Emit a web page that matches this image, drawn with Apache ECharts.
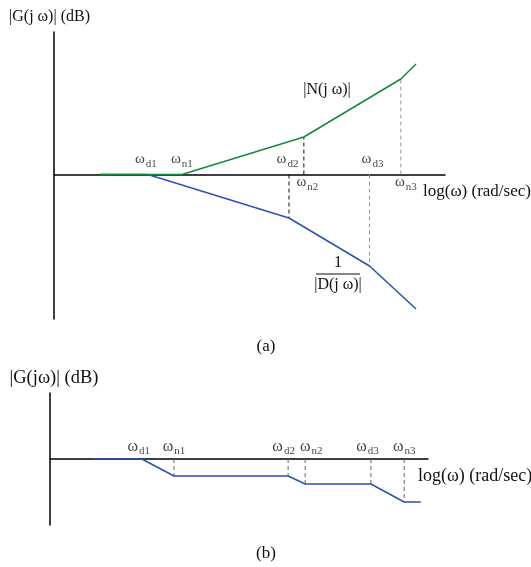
<!DOCTYPE html>
<html><head><meta charset="utf-8">
<script src="https://cdn.jsdelivr.net/npm/echarts@6/dist/echarts.min.js"></script>
<style>html,body{margin:0;padding:0;background:#fff}#c{width:531px;height:567px}</style>
</head><body><div id="c"></div>
<script>
// Panel (a): straight-line asymptotes (x in log-frequency units, y in dB units)
const numLogW = [1.17, 3.27, 6.39, 8.87, 9.26];
const numMag  = [0, 0, 7.5, 19.1, 22.1];
const denLogW = [1.17, 2.40, 6.01, 8.07, 9.26];
const denMag  = [0, 0, -8.7, -18.3, -26.9];
// Panel (b): overall magnitude
const totLogW = [1.14, 2.43, 3.28, 6.30, 6.75, 8.49, 9.37, 9.81];
const totMag  = [0, 0, -3.4, -3.4, -5.0, -5.0, -8.6, -8.6];
const breakNames = ['d1', 'n1', 'd2', 'n2', 'd3', 'n3'];
const yTitles = ['|G(j ω)| (dB)', '|G(jω)| (dB)'];
const xTitle = 'log(ω) (rad/sec)';
const panelTags = ['(a)', '(b)'];
const numLabel = '|N(j ω)|';
const denLabel = ['1', '|D(j ω)|'];

const FONT = '"Liberation Serif", "Times New Roman", serif';
const GREEN = '#14893c';
const BLUE = '#2c4fb8';

const z = (a, b) => a.map((v, i) => [v, b[i]]);

// break-point positions for the ω labels
const breaksA = [denLogW[1], numLogW[1], denLogW[2], numLogW[2], denLogW[3], numLogW[3]];
const breaksB = totLogW.slice(1, 7);
const offA = [[-2, -15], [0, -15], [-1.5, -15], [3.5, 7.5], [3, -15], [5, 7.5]];
const offB = [[-3, -12.5], [0, -12.5], [-4.5, -12.5], [6, -12.5], [-3.5, -12.5], [0, -12.5]];

function labelSeries(idx, breaks, offs, wSize) {
  return {
    type: 'scatter', xAxisIndex: idx, yAxisIndex: idx, symbolSize: 0, silent: true, z: 5,
    data: breaks.map((x, i) => ({ value: [x, 0], name: breakNames[i],
      label: { offset: offs[i] } })),
    label: {
      show: true, position: 'inside', align: 'center', verticalAlign: 'middle',
      formatter: p => '{w|ω}{s|' + p.name + '}',
      rich: {
        w: { fontFamily: FONT, fontSize: wSize, lineHeight: 16, color: '#111' },
        s: { fontFamily: FONT, fontSize: 11, color: '#111', padding: [10, 0, 0, 1] }
      }
    }
  };
}

function guide(idx, x, y, color) {
  return {
    type: 'line', xAxisIndex: idx, yAxisIndex: idx, symbol: 'none', silent: true, z: 1,
    data: [[x, 0], [x, y]],
    lineStyle: { color: color, width: 1, type: [4, 3] }
  };
}

const guidesA = [
  guide(0, denLogW[2], denMag[2], '#111'),
  guide(0, numLogW[2], numMag[2], '#111'),
  guide(0, denLogW[3], denMag[3], '#9a9a9a'),
  guide(0, numLogW[3], numMag[3], '#9a9a9a')
];
const guidesB = [2, 3, 4, 5, 6].map(i => guide(1, totLogW[i], totMag[i], '#666'));

function xAx(idx) {
  return {
    type: 'value', gridIndex: idx, min: 0, max: 10,
    axisLine: { show: true, onZero: true, lineStyle: { color: '#000', width: 1.5 } },
    axisTick: { show: false }, axisLabel: { show: false }, splitLine: { show: false },
    name: xTitle, nameLocation: 'end', nameGap: idx === 0 ? -22 : -10,
    nameTextStyle: { fontFamily: FONT, fontSize: idx === 0 ? 17 : 18, color: '#111', align: 'left',
      verticalAlign: 'top', padding: [idx === 0 ? 9 : 8, 0, 0, 0] }
  };
}
function yAx(idx, min, max) {
  return {
    type: 'value', gridIndex: idx, min: min, max: max,
    axisLine: { show: true, onZero: false, lineStyle: { color: '#000', width: 1.5 } },
    axisTick: { show: false }, axisLabel: { show: false }, splitLine: { show: false },
    name: yTitles[idx], nameLocation: 'end', nameGap: idx === 0 ? 7 : 5,
    nameTextStyle: { fontFamily: FONT, fontSize: idx === 0 ? 16 : 18.5, color: '#111',
      align: 'center', verticalAlign: 'bottom',
      padding: idx === 0 ? [0, 9, 0, 0] : [0, 0, 0, 8] }
  };
}

const chart = echarts.init(document.getElementById('c'), null, { renderer: 'canvas' });
chart.setOption({
  backgroundColor: '#fff',
  animation: false,
  grid: [
    { left: 54, top: 32, width: 391, height: 287, outerBoundsMode: 'none', containLabel: false },
    { left: 50, top: 393, width: 378, height: 132, outerBoundsMode: 'none', containLabel: false }
  ],
  xAxis: [xAx(0), xAx(1)],
  yAxis: [yAx(0, -28.9, 28.5), yAx(1, -13.2, 13.2)],
  series: [
    ...guidesA, ...guidesB,
    { name: '1/|D(jω)|', type: 'line', xAxisIndex: 0, yAxisIndex: 0, symbol: 'none', z: 3,
      data: z(denLogW, denMag), lineStyle: { color: BLUE, width: 1.5 } },
    { name: '|N(jω)|', type: 'line', xAxisIndex: 0, yAxisIndex: 0, symbol: 'none', z: 4,
      data: z(numLogW, numMag), lineStyle: { color: GREEN, width: 1.5 } },
    { name: '|G(jω)|', type: 'line', xAxisIndex: 1, yAxisIndex: 1, symbol: 'none', z: 3,
      data: z(totLogW, totMag), lineStyle: { color: BLUE, width: 1.5 } },
    labelSeries(0, breaksA, offA, 15),
    labelSeries(1, breaksB, offB, 16)
  ],
  graphic: [
    { type: 'text', x: 327, y: 90, style: { text: numLabel, font: '16px ' + FONT, fill: '#111',
      align: 'center', verticalAlign: 'middle' } },
    { type: 'text', x: 338, y: 254, style: {
      text: '{n|' + denLabel[0] + '}\n{bar|}\n{d|' + denLabel[1] + '}',
      align: 'center', verticalAlign: 'top',
      rich: {
        n: { font: '16px ' + FONT, fill: '#111', lineHeight: 18, align: 'center' },
        bar: { width: 44, height: 1, lineHeight: 4, backgroundColor: '#111', align: 'center' },
        d: { font: '16px ' + FONT, fill: '#111', lineHeight: 18, align: 'center' }
      } } },
    { type: 'text', x: 266, y: 347, style: { text: panelTags[0], font: '17px ' + FONT, fill: '#111',
      align: 'center', verticalAlign: 'middle' } },
    { type: 'text', x: 266, y: 554, style: { text: panelTags[1], font: '17px ' + FONT, fill: '#111',
      align: 'center', verticalAlign: 'middle' } }
  ]
});
</script></body></html>
